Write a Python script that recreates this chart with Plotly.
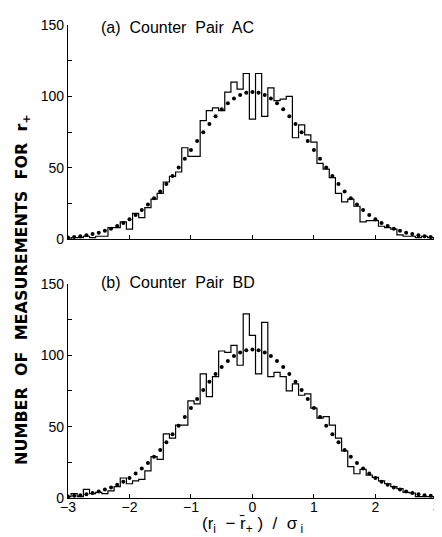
import plotly.graph_objects as go

# bin centres (width 0.1) shared by both panels
bin_centres = [
    -3.0, -2.9, -2.8, -2.7, -2.6, -2.5, -2.4, -2.3, -2.2, -2.1,
    -2.0, -1.9, -1.8, -1.7, -1.6, -1.5, -1.4, -1.3, -1.2, -1.1,
    -1.0, -0.9, -0.8, -0.7, -0.6, -0.5, -0.4, -0.3, -0.2, -0.1,
    0.0, 0.1, 0.2, 0.3, 0.4, 0.5, 0.6, 0.7, 0.8, 0.9,
    1.0, 1.1, 1.2, 1.3, 1.4, 1.5, 1.6, 1.7, 1.8, 1.9,
    2.0, 2.1, 2.2, 2.3, 2.4, 2.5, 2.6, 2.7, 2.8, 2.9, 3.0,
]

# (a) counter pair AC : measured histogram
counts_ac = [
    0, 1, 1, 2, 1, 2, 2, 8, 8, 12,
    7, 18, 15, 22, 28, 32, 40, 44, 47, 64,
    58, 58, 83, 90, 92, 90, 103, 110, 105, 116,
    84, 116, 86, 106, 97, 98, 100, 71, 80, 73,
    68, 53, 49, 43, 32, 26, 28, 23, 12, 13,
    13, 9, 8, 7, 3, 2, 2, 1, 2, 1, 0,
]
# (a) expected (dotted curve)
expected_ac = [
    1.1, 1.5, 2.0, 2.7, 3.5, 4.5, 5.8, 7.3, 9.2, 11.3,
    13.9, 16.9, 20.4, 24.3, 28.6, 33.4, 38.6, 44.2, 50.1, 56.2,
    62.5, 68.7, 74.9, 80.7, 86.1, 90.9, 95.1, 98.5, 101.0, 102.5,
    103.0, 102.5, 101.0, 98.5, 95.1, 90.9, 86.1, 80.7, 74.9, 68.7,
    62.5, 56.2, 50.1, 44.2, 38.6, 33.4, 28.6, 24.3, 20.4, 16.9,
    13.9, 11.3, 9.2, 7.3, 5.8, 4.5, 3.5, 2.7, 2.0, 1.5, 1.1,
]

# (b) counter pair BD : measured histogram
counts_bd = [
    1, 3, 1, 6, 3, 4, 3, 5, 8, 14,
    10, 12, 13, 19, 29, 27, 45, 42, 51, 51,
    68, 66, 87, 71, 85, 103, 102, 107, 93, 129,
    114, 87, 123, 85, 88, 85, 75, 80, 72, 73,
    63, 56, 57, 51, 42, 33, 22, 17, 20, 16,
    14.5, 12, 10, 8, 6.5, 4, 3.5, 1, 1, 1, 0,
]
# (b) expected (dotted curve)
expected_bd = [
    1.1, 1.5, 2.0, 2.7, 3.5, 4.5, 5.9, 7.4, 9.3, 11.4,
    14.0, 17.1, 20.6, 24.5, 28.9, 33.7, 39.0, 44.6, 50.6, 56.7,
    63.1, 69.4, 75.6, 81.5, 86.9, 91.8, 96.0, 99.5, 102.0, 103.5,
    104.0, 103.5, 102.0, 99.5, 96.0, 91.8, 86.9, 81.5, 75.6, 69.4,
    63.1, 56.7, 50.6, 44.6, 39.0, 33.7, 28.9, 24.5, 20.6, 17.1,
    14.0, 11.4, 9.3, 7.4, 5.9, 4.5, 3.5, 2.7, 2.0, 1.5, 1.1,
]

y_ticks = [0, 25, 50, 75, 100, 125, 150]
y_ticktext = ["0", "", "50", "", "100", "", "150"]
x_ticks = [-3, -2, -1, 0, 1, 2, 3]

FONT = "Liberation Sans"

fig = go.Figure()

for counts, expected, xa, ya in [
    (counts_ac, expected_ac, "x", "y"),
    (counts_bd, expected_bd, "x2", "y2"),
]:
    fig.add_trace(go.Scatter(
        x=bin_centres, y=counts, mode="lines", line_shape="hvh",
        line=dict(color="black", width=1.2),
        xaxis=xa, yaxis=ya, showlegend=False,
    ))
    fig.add_trace(go.Scatter(
        x=bin_centres, y=expected, mode="markers",
        marker=dict(color="black", size=4),
        xaxis=xa, yaxis=ya, showlegend=False,
    ))

axis_common = dict(
    showline=True, linecolor="black", linewidth=1.2,
    showgrid=False, zeroline=False, ticks="inside", ticklen=4,
    tickcolor="black", tickwidth=1.2, ticklabeloverflow="allow",
    tickfont=dict(family=FONT, size=14, color="black"),
)

fig.update_layout(
    width=442, height=537,
    paper_bgcolor="white", plot_bgcolor="white",
    margin=dict(l=60, r=9, t=15, b=47),
    xaxis=dict(axis_common, domain=[0, 1], anchor="y", range=[-3, 3.002],
               tickvals=[-2, -1, 0, 1, 2], showticklabels=False),
    yaxis=dict(axis_common, domain=[0.5474, 1], anchor="x", range=[0, 150],
               tickvals=y_ticks, ticktext=y_ticktext),
    xaxis2=dict(axis_common, domain=[0, 1], anchor="y2", range=[-3, 3.002],
                tickvals=x_ticks, ticklabelstandoff=-4),
    yaxis2=dict(axis_common, domain=[0, 0.4526], anchor="x2", range=[0, 150],
                tickvals=y_ticks, ticktext=y_ticktext),
    annotations=[
        dict(text="(a)  Counter  Pair  AC", xref="paper", yref="paper",
             x=0.085, y=0.995, xanchor="left", yanchor="middle", showarrow=False,
             font=dict(family=FONT, size=16, color="black")),
        dict(text="(b)  Counter  Pair  BD", xref="paper", yref="paper",
             x=0.085, y=0.456, xanchor="left", yanchor="middle", showarrow=False,
             font=dict(family=FONT, size=16, color="black")),
        dict(text="<b>NUMBER  OF  MEASUREMENTS  FOR  r<sub>+</sub></b>",
             xref="paper", yref="paper", x=-0.122, y=0.442, textangle=-90,
             xanchor="center", yanchor="middle", showarrow=False,
             font=dict(family="DejaVu Sans", size=16, color="black")),
        dict(text="(r<sub>i</sub>  − r\u0304<sub>+</sub> )  /  σ<sub> i</sub>",
             xref="paper", yref="paper", x=0.5, y=-0.058,
             xanchor="center", yanchor="middle", showarrow=False,
             font=dict(family=FONT, size=17, color="black")),
    ],
)

fig.write_html("out.html")
